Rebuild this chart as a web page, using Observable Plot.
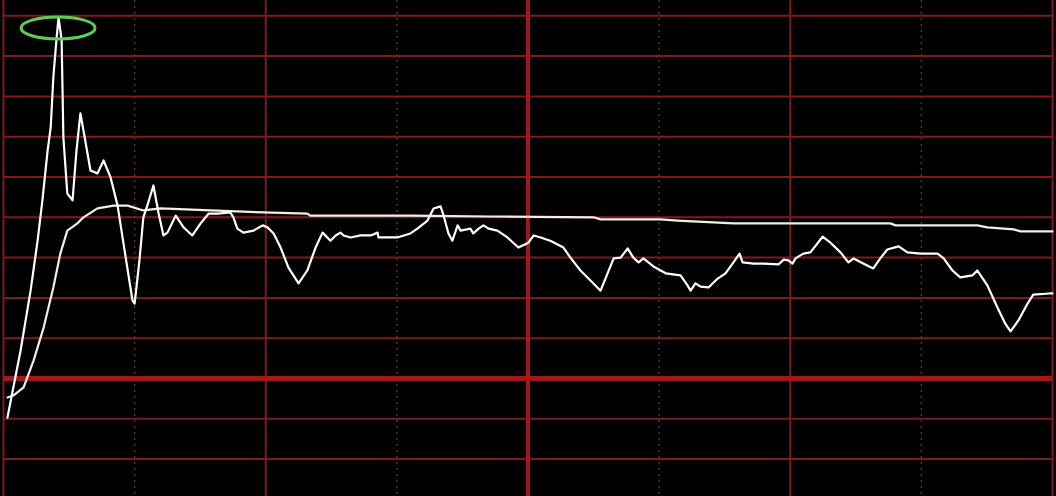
<!DOCTYPE html>
<html>
<head>
<meta charset="utf-8">
<script src="https://cdn.jsdelivr.net/npm/d3@7"></script>
<script src="https://cdn.jsdelivr.net/npm/@observablehq/plot@0.6"></script>
<style>
  html, body { margin: 0; padding: 0; background: #000; }
  #chart svg { display: block; }
</style>
</head>
<body>
<div id="chart"></div>
<script>
// Intraday time-share chart: minute of session (0–240) vs. change from previous close (grid units)
const priceMinutes = [0.9,3.9,6.2,7.8,8.9,10.1,10.8,11.4,12.1,12.6,13.3,13.7,14.6,15.8,16.7,17.6,18.5,19.9,21.5,22.9,24.5,26.1,27.7,29.5,30.0,31.1,32.0,32.9,34.3,35.5,36.6,37.5,39.4,41.2,43.2,45.1,46.9,49.0,51.9,52.6,53.5,54.9,57.2,59.3,60.4,61.8,63.4,65.2,67.5,69.5,71.4,73.0,74.8,76.0,77.1,77.8,79.4,81.7,84.0,85.6,85.8,90.1,93.1,94.7,97.0,98.4,100.0,100.7,101.8,102.7,103.9,104.6,106.8,107.5,108.7,109.8,111.0,113.0,115.3,117.8,120.1,121.3,122.9,125.1,128.1,129.7,132.0,134.3,136.6,138.2,139.6,141.2,142.8,144.1,145.3,146.4,148.7,151.5,154.9,156.5,157.2,158.3,159.5,161.3,163.4,165.2,167.0,168.4,169.1,171.6,173.9,177.3,178.5,179.6,180.5,181.2,183.0,184.6,186.2,187.4,189.2,191.5,193.3,194.5,196.8,199.0,200.6,202.2,204.8,206.8,209.8,213.7,215.1,217.1,218.9,221.7,222.8,225.1,227.4,229.2,230.4,232.2,234.3,235.6,239.3,240];
const priceValues = [-0.97,0.69,2.18,3.42,4.42,5.66,6.23,7.47,8.39,8.96,8.39,5.98,4.59,4.42,5.66,6.58,6.03,5.16,5.09,5.41,4.99,4.29,3.18,1.94,1.86,2.93,4.00,4.29,4.79,4.09,3.55,3.62,4.04,3.75,3.55,3.85,4.09,4.09,4.12,4.00,3.72,3.62,3.67,3.80,3.75,3.60,3.25,2.75,2.36,2.68,3.25,3.62,3.42,3.55,3.62,3.55,3.50,3.55,3.55,3.62,3.50,3.50,3.60,3.72,3.92,4.22,4.27,4.04,3.60,3.42,3.80,3.67,3.72,3.60,3.72,3.80,3.72,3.67,3.50,3.25,3.37,3.55,3.50,3.42,3.25,3.00,2.68,2.43,2.18,2.61,2.98,3.00,3.23,3.00,2.88,2.98,2.78,2.61,2.56,2.31,2.18,2.36,2.28,2.26,2.48,2.61,2.88,3.10,2.88,2.85,2.85,2.83,2.95,2.93,2.85,2.98,3.10,3.13,3.35,3.52,3.37,3.13,2.88,2.98,2.85,2.73,2.98,3.20,3.28,3.13,3.10,3.10,2.98,2.68,2.51,2.56,2.68,2.31,1.76,1.36,1.17,1.44,1.86,2.08,2.11,2.11];

const avgMinutes = [0.9,2.3,4.6,6.9,9.2,11.4,13.0,14.6,16.9,18.3,21.5,25.2,28.4,32.0,35.9,47.4,59.5,69.5,70.2,93.1,111.4,135.0,136.6,150.3,154.2,167.0,202.9,204.1,222.8,225.1,231.1,232.7,240];
const avgValues = [-0.47,-0.42,-0.22,0.45,1.27,2.26,3.10,3.67,3.85,4.00,4.22,4.29,4.29,4.17,4.22,4.17,4.12,4.09,4.04,4.04,4.02,4.00,3.95,3.95,3.92,3.85,3.85,3.80,3.80,3.75,3.70,3.65,3.65];

const gridLevels = [-2, -1, 1, 2, 3, 4, 5, 6, 7, 8, 9];
const baseLevel = [0];
const solidTimes = [0, 60, 180, 240];
const dottedTimes = [30, 90, 150, 210];
const middayTime = [120];
const peak = {minute: 12.6, value: 8.96};

const priceData = priceMinutes.map((m, i) => ({minute: m, value: priceValues[i]}));
const avgData = avgMinutes.map((m, i) => ({minute: m, value: avgValues[i]}));

const chart = Plot.plot({
  width: 1056,
  height: 496,
  marginTop: 0,
  marginBottom: 0,
  marginLeft: 3,
  marginRight: 4,
  style: {background: "#000", overflow: "visible"},
  x: {domain: [0, 240], axis: null},
  y: {domain: [-2.928, 9.38], axis: null},
  marks: [
    Plot.ruleY(gridLevels, {stroke: "#7d1c1c", strokeWidth: 2}),
    Plot.ruleX(dottedTimes, {stroke: "#6a2a2a", strokeWidth: 1.5, strokeDasharray: "2,4"}),
    Plot.ruleX(solidTimes, {stroke: "#7d1c1c", strokeWidth: 2}),
    Plot.ruleY(baseLevel, {stroke: "#a3161a", strokeWidth: 5}),
    Plot.ruleX(middayTime, {stroke: "#a3161a", strokeWidth: 4}),
    Plot.line(avgData, {x: "minute", y: "value", stroke: "#f4ece6", strokeWidth: 2.2}),
    Plot.line(priceData, {x: "minute", y: "value", stroke: "#ffffff", strokeWidth: 2.2})
  ]
});

const xs = chart.scale("x"), ys = chart.scale("y");
d3.select(chart).append("ellipse")
  .attr("cx", xs.apply(peak.minute))
  .attr("cy", ys.apply(peak.value) + 11)
  .attr("rx", 37)
  .attr("ry", 11)
  .attr("fill", "none")
  .attr("stroke", "#5ccf52")
  .attr("stroke-width", 3);

document.getElementById("chart").append(chart);
</script>
</body>
</html>
